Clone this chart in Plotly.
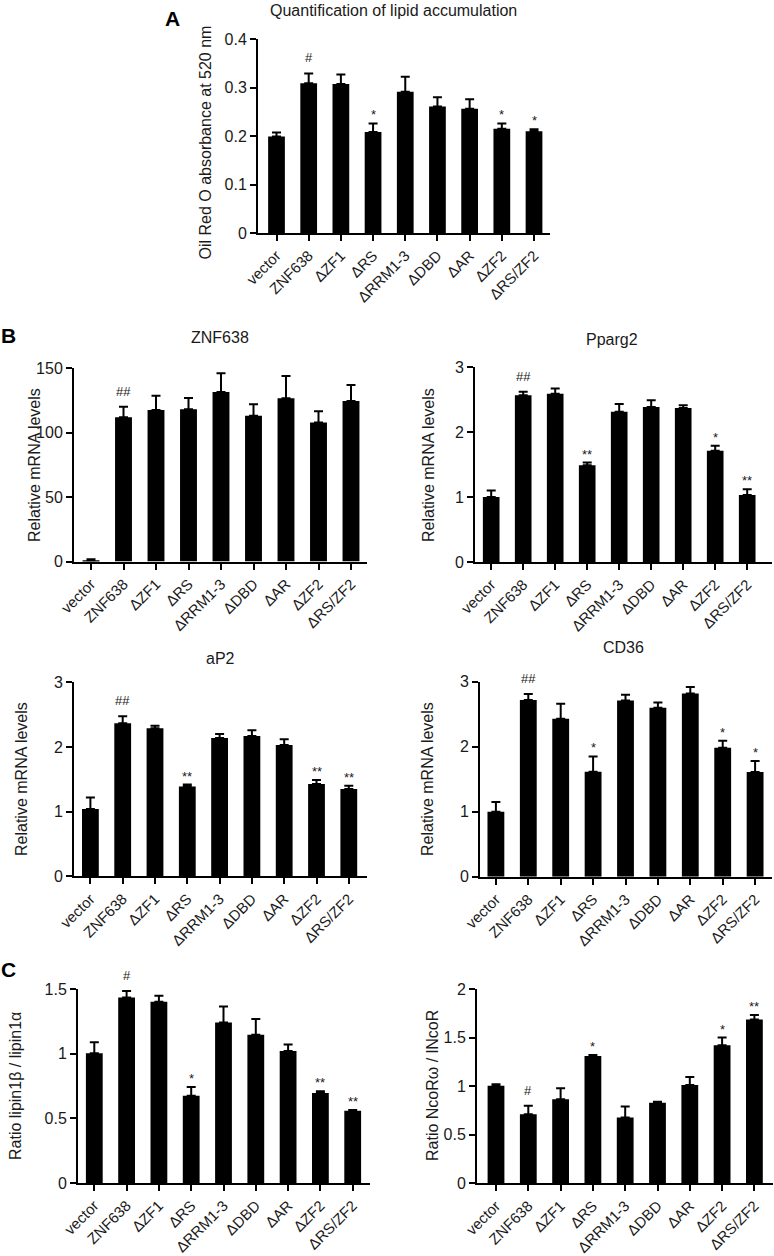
import plotly.graph_objects as go

W, H = 774, 1256

categories = ["vector", "ZNF638", "ΔZF1", "ΔRS", "ΔRRM1-3", "ΔDBD", "ΔAR", "ΔZF2", "ΔRS/ZF2"]

# Panel A: Oil Red O
oil_mean = [0.199, 0.309, 0.307, 0.208, 0.291, 0.261, 0.256, 0.215, 0.210]
oil_top = [0.207, 0.329, 0.327, 0.226, 0.322, 0.280, 0.276, 0.226, 0.214]
oil_sig = ["", "#", "", "*", "", "", "", "*", "*"]

# Panel B
znf_mean = [1.0, 112.0, 117.6, 118.2, 131.6, 113.2, 126.7, 108.0, 124.6]
znf_top = [1.8, 120.2, 128.7, 127.0, 146.1, 122.0, 144.0, 116.6, 137.0]
znf_sig = ["", "##", "", "", "", "", "", "", ""]

pparg_mean = [1.00, 2.565, 2.59, 1.49, 2.31, 2.385, 2.37, 1.71, 1.03]
pparg_top = [1.10, 2.62, 2.67, 1.53, 2.43, 2.49, 2.41, 1.79, 1.12]
pparg_sig = ["", "##", "", "**", "", "", "", "*", "**"]

ap2_mean = [1.04, 2.366, 2.29, 1.39, 2.14, 2.17, 2.03, 1.43, 1.35]
ap2_top = [1.22, 2.475, 2.33, 1.42, 2.20, 2.26, 2.12, 1.49, 1.40]
ap2_sig = ["", "##", "", "**", "", "", "", "**", "**"]

cd36_mean = [1.00, 2.72, 2.43, 1.615, 2.71, 2.60, 2.82, 1.985, 1.61]
cd36_top = [1.15, 2.81, 2.66, 1.85, 2.80, 2.68, 2.92, 2.09, 1.78]
cd36_sig = ["", "##", "", "*", "", "", "", "*", "*"]

# Panel C
lipin_mean = [1.005, 1.437, 1.404, 0.675, 1.242, 1.149, 1.022, 0.696, 0.559]
lipin_top = [1.09, 1.486, 1.45, 0.744, 1.366, 1.27, 1.072, 0.711, 0.566]
lipin_sig = ["", "#", "", "*", "", "", "", "**", "**"]

ncor_mean = [1.004, 0.711, 0.866, 1.31, 0.677, 0.828, 1.013, 1.42, 1.686]
ncor_top = [1.02, 0.797, 0.979, 1.32, 0.79, 0.84, 1.095, 1.50, 1.733]
ncor_sig = ["", "#", "", "*", "", "", "", "*", "**"]

FONT = "Liberation Sans, Arial, sans-serif"
TXT = "#1a1a1a"

panels = [
    dict(mean=oil_mean, top=oil_top, sig=oil_sig, left=258, c0=276.5, s=32.19, right=550,
         ytop=39, ybot=233, yr=[0, 0.4], tv=[0, 0.1, 0.2, 0.3, 0.4], tt=["0", "0.1", "0.2", "0.3", "0.4"],
         ytitle="Oil Red O absorbance at 520 nm", ytx=205, yty=142.5,
         title="Quantification of lipid accumulation", tx=393.5, ty=10),
    dict(mean=znf_mean, top=znf_top, sig=znf_sig, left=74, c0=91, s=32.5, right=367,
         ytop=368.3, ybot=561.5, yr=[0, 150], tv=[0, 50, 100, 150], tt=["0", "50", "100", "150"],
         ytitle="Relative mRNA levels", ytx=34, yty=465, title="ZNF638", tx=220, ty=337),
    dict(mean=pparg_mean, top=pparg_top, sig=pparg_sig, left=475, c0=491.2, s=32.0, right=772,
         ytop=367, ybot=562, yr=[0, 3], tv=[0, 1, 2, 3], tt=["0", "1", "2", "3"],
         ytitle="Relative mRNA levels", ytx=428, yty=465, title="Pparg2", tx=612, ty=339),
    dict(mean=ap2_mean, top=ap2_top, sig=ap2_sig, left=74, c0=90.4, s=32.3, right=367,
         ytop=682.3, ybot=876.4, yr=[0, 3], tv=[0, 1, 2, 3], tt=["0", "1", "2", "3"],
         ytitle="Relative mRNA levels", ytx=22, yty=779, title="aP2", tx=220, ty=658),
    dict(mean=cd36_mean, top=cd36_top, sig=cd36_sig, left=480, c0=495.9, s=32.4, right=772,
         ytop=681.7, ybot=876.7, yr=[0, 3], tv=[0, 1, 2, 3], tt=["0", "1", "2", "3"],
         ytitle="Relative mRNA levels", ytx=428, yty=779, title="CD36", tx=623, ty=647),
    dict(mean=lipin_mean, top=lipin_top, sig=lipin_sig, left=78, c0=94.3, s=32.3, right=370,
         ytop=989.3, ybot=1183, yr=[0, 1.5], tv=[0, 0.5, 1, 1.5], tt=["0", "0.5", "1", "1.5"],
         ytitle="Ratio lipin1β / lipin1α", ytx=15, yty=1086, title=None),
    dict(mean=ncor_mean, top=ncor_top, sig=ncor_sig, left=477, c0=496, s=32.3, right=773,
         ytop=989, ybot=1183.3, yr=[0, 2], tv=[0, 0.5, 1, 1.5, 2], tt=["0", "0.5", "1", "1.5", "2"],
         ytitle="Ratio NcoRω / lNcoR", ytx=432, yty=1086, title=None),
]

fig = go.Figure()
annotations = []
layout = dict(width=W, height=H, margin=dict(l=0, r=0, t=0, b=0, autoexpand=False),
              paper_bgcolor="white", plot_bgcolor="white", showlegend=False,
              font=dict(family=FONT, color=TXT, size=16))

for i, p in enumerate(panels):
    n = "" if i == 0 else str(i + 1)
    xa, ya = "x" + n, "y" + n
    xs = list(range(len(categories)))
    err = [t - m for m, t in zip(p["mean"], p["top"])]
    fig.add_trace(go.Bar(
        x=xs, y=p["mean"], xaxis=xa, yaxis=ya, width=0.52,
        marker=dict(color="black", line=dict(width=0)),
        error_y=dict(type="data", array=err, arrayminus=[0] * len(err), symmetric=False,
                     color="black", thickness=2, width=4.5),
    ))
    xr = [(p["left"] - p["c0"]) / p["s"], (p["right"] - p["c0"]) / p["s"]]
    layout["xaxis" + n] = dict(
        domain=[p["left"] / W, p["right"] / W], range=xr, anchor=ya, automargin=False,
        tickmode="array", tickvals=xs, ticktext=categories, tickangle=-45,
        showline=True, linecolor="black", linewidth=2, ticks="outside", ticklen=6,
        tickwidth=2, tickcolor="black", showgrid=False, zeroline=False,
        tickfont=dict(size=15, family=FONT, color=TXT), fixedrange=True,
    )
    layout["yaxis" + n] = dict(
        domain=[1 - p["ybot"] / H, 1 - p["ytop"] / H], range=p["yr"], anchor=xa, automargin=False,
        tickmode="array", tickvals=p["tv"], ticktext=p["tt"],
        showline=True, linecolor="black", linewidth=2, ticks="outside", ticklen=6,
        tickwidth=2, tickcolor="black", showgrid=False, zeroline=False,
        tickfont=dict(size=16, family=FONT, color=TXT), fixedrange=True,
    )
    annotations.append(dict(
        text=p["ytitle"], x=p["ytx"] / W, y=1 - p["yty"] / H,
        xref="paper", yref="paper", textangle=-90, showarrow=False,
        xanchor="center", yanchor="middle", font=dict(size=16, family=FONT, color=TXT)))
    if p["title"]:
        annotations.append(dict(
            text=p["title"], x=p["tx"] / W, y=1 - p["ty"] / H, xref="paper", yref="paper",
            showarrow=False, xanchor="center", yanchor="middle",
            font=dict(size=16, family=FONT, color=TXT)))
    for k, sgn in enumerate(p["sig"]):
        if sgn:
            annotations.append(dict(
                text=sgn, x=k, y=p["top"][k], xref=xa, yref=ya, showarrow=False,
                xanchor="center", yanchor="bottom", yshift=6 if "#" in sgn else -1,
                font=dict(size=13, family=FONT, color=TXT)))

for lab, xp, yp in [("A", 172, 18), ("B", 8, 335), ("C", 8, 969)]:
    annotations.append(dict(text="<b>" + lab + "</b>", x=xp / W, y=1 - yp / H,
                            xref="paper", yref="paper", showarrow=False,
                            xanchor="center", yanchor="middle",
                            font=dict(size=21, family=FONT, color="black")))

layout["annotations"] = annotations
fig.update_layout(**layout)
fig.write_html("out.html", config={"displayModeBar": False},
               post_script="document.body.style.margin='0';document.body.style.padding='0';"
                           "document.body.style.overflow='hidden';")
